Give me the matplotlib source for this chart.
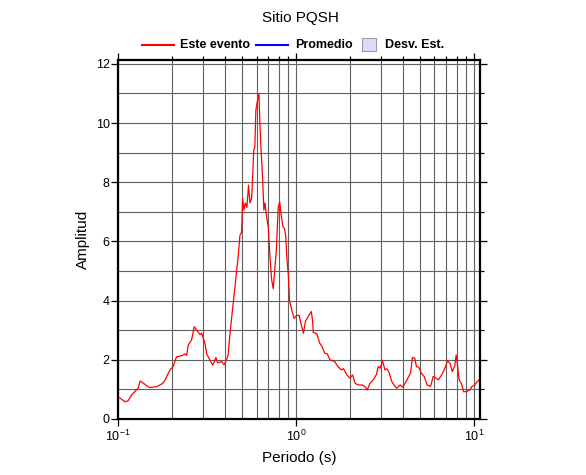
import matplotlib
matplotlib.use("Agg")
import matplotlib.pyplot as plt
from matplotlib.lines import Line2D
from matplotlib.patches import Rectangle
from matplotlib.ticker import LogLocator, MultipleLocator

plt.rcParams['font.family'] = ['Liberation Sans', 'DejaVu Sans']
plt.rcParams['mathtext.default'] = 'regular'

# Espectro: periodo (s) y amplitud
periodo = [0.100, 0.103, 0.1095, 0.114, 0.119, 0.124, 0.130, 0.133, 0.139, 0.145, 0.151,
           0.158, 0.165, 0.172, 0.178, 0.184, 0.190, 0.196, 0.204, 0.213, 0.220, 0.228,
           0.238, 0.243, 0.248, 0.259, 0.268, 0.277, 0.289, 0.295, 0.308, 0.315, 0.329,
           0.340, 0.355, 0.362, 0.372, 0.382, 0.394, 0.407, 0.415, 0.426, 0.445, 0.460,
           0.473, 0.484, 0.495, 0.501, 0.510, 0.519, 0.530, 0.541, 0.551, 0.563, 0.570,
           0.579, 0.587, 0.595, 0.605, 0.619, 0.627, 0.635, 0.646, 0.660, 0.669, 0.683,
           0.698, 0.714, 0.730, 0.745, 0.775, 0.795, 0.810, 0.825, 0.845, 0.860, 0.875,
           0.890, 0.905, 0.920, 0.945, 0.975, 1.01, 1.04, 1.07, 1.10, 1.13, 1.18, 1.22,
           1.24, 1.25, 1.31, 1.36, 1.40, 1.45, 1.50, 1.55, 1.65, 1.72, 1.80, 1.85, 1.93,
           2.01, 2.08, 2.15, 2.25, 2.35, 2.44, 2.51, 2.60, 2.70, 2.83, 2.90, 2.97, 3.06,
           3.16, 3.24, 3.32, 3.45, 3.60, 3.68, 3.85, 3.98, 4.20, 4.40, 4.51, 4.65, 4.75,
           4.90, 5.05, 5.25, 5.45, 5.70, 5.90, 6.05, 6.30, 6.60, 6.90, 7.10, 7.35, 7.55,
           7.80, 7.94, 8.05, 8.25, 8.50, 8.75, 9.10, 9.45, 9.75, 10.1, 10.45, 10.8]
amplitud = [0.74, 0.70, 0.58, 0.62, 0.81, 0.92, 1.05, 1.28, 1.21, 1.12, 1.06,
            1.08, 1.09, 1.15, 1.20, 1.32, 1.50, 1.66, 1.77, 2.10, 2.12, 2.14,
            2.20, 2.15, 2.50, 2.67, 3.12, 3.00, 2.85, 2.90, 2.55, 2.20, 1.98,
            1.82, 2.08, 1.90, 1.92, 1.94, 1.83, 2.00, 2.15, 2.90, 4.00, 4.80,
            5.48, 6.20, 6.32, 7.45, 7.06, 7.30, 7.15, 7.90, 7.30, 7.45, 8.13,
            9.09, 9.20, 10.44, 10.70, 11.00, 10.00, 9.20, 8.40, 7.06, 7.30, 6.85,
            6.50, 5.48, 4.70, 4.40, 5.70, 7.17, 7.34, 6.90, 6.50, 6.45, 6.20,
            5.37, 4.90, 4.00, 3.70, 3.40, 3.50, 3.50, 3.20, 2.90, 3.30, 3.50, 3.63,
            3.30, 2.93, 2.87, 2.56, 2.45, 2.22, 2.20, 2.00, 1.94, 1.77, 1.66, 1.70, 1.49,
            1.38, 1.49, 1.20, 1.15, 1.15, 1.10, 0.98, 1.20, 1.30, 1.50, 1.77, 1.72, 1.97,
            1.66, 1.70, 1.60, 1.27, 1.10, 1.04, 1.15, 1.07, 1.32, 1.55, 2.08, 2.05, 1.77,
            1.75, 1.55, 1.44, 1.15, 1.10, 1.44, 1.40, 1.32, 1.50, 1.75, 1.97, 1.87, 1.60,
            1.80, 2.16, 1.90, 1.32, 1.20, 0.92, 0.93, 0.98, 1.10, 1.15, 1.27, 1.34]

leyenda = ['Este evento', 'Promedio', 'Desv. Est.']

fig = plt.figure(figsize=(5.86, 4.75), dpi=100)
ax = fig.add_axes([0.2014, 0.1179, 0.6176, 0.7558])

ax.plot(periodo, amplitud, color='red', lw=0.9)

ax.set_xscale('log')
ax.set_xlim(0.1, 10.8)
ax.set_ylim(0, 12.13)

ax.xaxis.set_major_locator(LogLocator(base=10, numticks=10))
ax.xaxis.set_minor_locator(LogLocator(base=10, subs=range(2, 10), numticks=20))
ax.xaxis.set_minor_formatter(plt.NullFormatter())
ax.yaxis.set_major_locator(MultipleLocator(2))
ax.yaxis.set_minor_locator(MultipleLocator(1))

ax.grid(True, which='both', color='#606060', lw=0.8)
ax.tick_params(which='both', direction='out', top=True, right=True, labelsize=9,
               width=0.9, color='black', pad=2)
ax.tick_params(which='major', length=5)
ax.tick_params(which='minor', length=3)
ax.tick_params(axis='y', which='major', pad=1)
ax.tick_params(axis='y', which='minor', left=False)
ax.tick_params(axis='x', which='minor', bottom=False)
for s in ax.spines.values():
    s.set_linewidth(1.6)

ax.set_xlabel('Periodo (s)', fontsize=11, labelpad=5)
ax.set_ylabel('Amplitud', fontsize=11, labelpad=4)

fig.text(0.512, 0.962, 'Sitio PQSH', ha='center', va='center', fontsize=11)

# leyenda dibujada a mano (posiciones en píxeles de la figura)
W, H = 586.0, 475.0
yl = 1 - 45 / H
fig.add_artist(Line2D([142 / W, 174 / W], [yl, yl], color='red', lw=1.5))
fig.add_artist(Line2D([256 / W, 288 / W], [yl, yl], color='blue', lw=1.5))
fig.add_artist(Rectangle((362 / W, yl - 6.5 / H), 14 / W, 13 / H,
                         facecolor='#dcdcf8', edgecolor='#9a9aa8', lw=0.8))
for xt, txt in zip([180, 295, 385], leyenda):
    fig.text(xt / W, yl, txt, ha='left', va='center', fontsize=9, weight='bold')

fig.savefig('out.png', dpi=100)
